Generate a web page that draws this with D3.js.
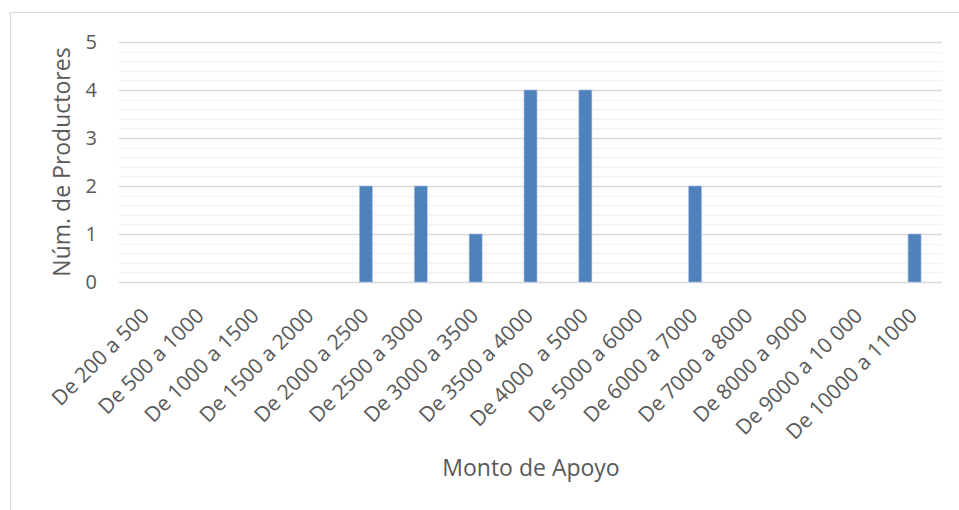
<!DOCTYPE html>
<html>
<head>
<meta charset="utf-8">
<script src="https://cdn.jsdelivr.net/npm/d3@7"></script>
<style>
  body { margin: 0; background: #fff; }
  text { font-family: "Open Sans", "Liberation Sans", sans-serif; fill: #595959; }
</style>
</head>
<body>
<div id="chart"></div>
<script>
// categories and values
var categories = ["De 200 a 500", "De 500 a 1000", "De 1000 a 1500", "De 1500 a 2000",
    "De 2000 a 2500", "De 2500 a 3000", "De 3000 a 3500", "De 3500 a 4000",
    "De 4000  a 5000", "De 5000 a 6000", "De 6000 a 7000", "De 7000 a 8000",
    "De 8000 a 9000", "De 9000 a 10 000", "De 10000 a 11000"];
var productores = [0, 0, 0, 0, 2, 2, 1, 4, 4, 0, 2, 0, 0, 0, 1];
var yTicks = [0, 1, 2, 3, 4, 5];

var W = 959, H = 510;
var margin = { top: 42, right: 17, bottom: 228, left: 119 },
    width = W - margin.left - margin.right,
    height = H - margin.top - margin.bottom;

var root = d3.select("#chart")
    .append("svg")
    .attr("width", W)
    .attr("height", H);

// chart frame
root.append("rect")
    .attr("x", 10.5).attr("y", 12.5)
    .attr("width", 960).attr("height", 520)
    .attr("fill", "none")
    .attr("stroke", "#d9d9d9");

var svg = root.append("g")
    .attr("transform", "translate(" + margin.left + "," + margin.top + ")");

var x = d3.scaleBand()
    .domain(categories)
    .range([0, width]);

var y = d3.scaleLinear()
    .domain([0, 5])
    .range([height, 0]);

// minor gridlines
svg.append("g")
    .selectAll("line")
    .data(d3.range(0, 5.001, 0.2).filter(v => Math.abs(v - Math.round(v)) > 0.01))
    .enter()
    .append("line")
    .attr("x1", 0).attr("x2", width)
    .attr("y1", d => Math.round(y(d)) + 0.5)
    .attr("y2", d => Math.round(y(d)) + 0.5)
    .attr("stroke", "#f2f2f2")
    .attr("stroke-width", 1.5);

// major gridlines
svg.append("g")
    .selectAll("line")
    .data(yTicks)
    .enter()
    .append("line")
    .attr("x1", 0).attr("x2", width)
    .attr("y1", d => Math.round(y(d)) + 0.5)
    .attr("y2", d => Math.round(y(d)) + 0.5)
    .attr("stroke", "#d9d9d9")
    .attr("stroke-width", 1.5);

// y axis labels
svg.append("g")
    .attr("class", "yAxis")
    .call(d3.axisLeft(y).tickValues(yTicks).tickFormat(d3.format("d")).tickSize(0).tickPadding(22))
    .call(g => g.select(".domain").remove());

d3.selectAll(".yAxis text")
    .style("font-size", "20px")
    .style("font-family", "\"Open Sans\", sans-serif")
    .attr("fill", "#595959");

// bars
var barW = 13;
svg.selectAll("rect.bar")
    .data(productores.map((v, i) => ({ cat: categories[i], value: v })).filter(d => d.value > 0))
    .enter()
    .append("rect")
    .attr("class", "bar")
    .attr("x", d => x(d.cat) + x.bandwidth() / 2 - barW / 2)
    .attr("y", d => y(d.value))
    .attr("width", barW)
    .attr("height", d => height - y(d.value))
    .attr("fill", "#4f81bd")
    .attr("stroke", "#a9c0e0")
    .attr("stroke-width", 0.6);

// x axis labels
svg.append("g")
    .attr("class", "xAxis")
    .attr("transform", "translate(0," + height + ")")
    .call(d3.axisBottom(x).tickSize(0).tickPadding(0))
    .call(g => g.select(".domain").remove());

d3.selectAll(".xAxis text")
    .style("font-size", "21px")
    .style("font-family", "\"Open Sans\", sans-serif")
    .style("white-space", "pre")
    .attr("fill", "#595959")
    .style("text-anchor", "end")
    .attr("dy", "0")
    .attr("transform", "translate(4,35) rotate(-45)");

// axis titles
root.append("text")
    .attr("transform", "translate(70," + (margin.top + height / 2) + ") rotate(-90)")
    .attr("text-anchor", "middle")
    .style("font-size", "23px")
    .text("Núm. de Productores");

root.append("text")
    .attr("x", 531)
    .attr("y", 476)
    .attr("text-anchor", "middle")
    .style("font-size", "23px")
    .text("Monto de Apoyo");
</script>
</body>
</html>
